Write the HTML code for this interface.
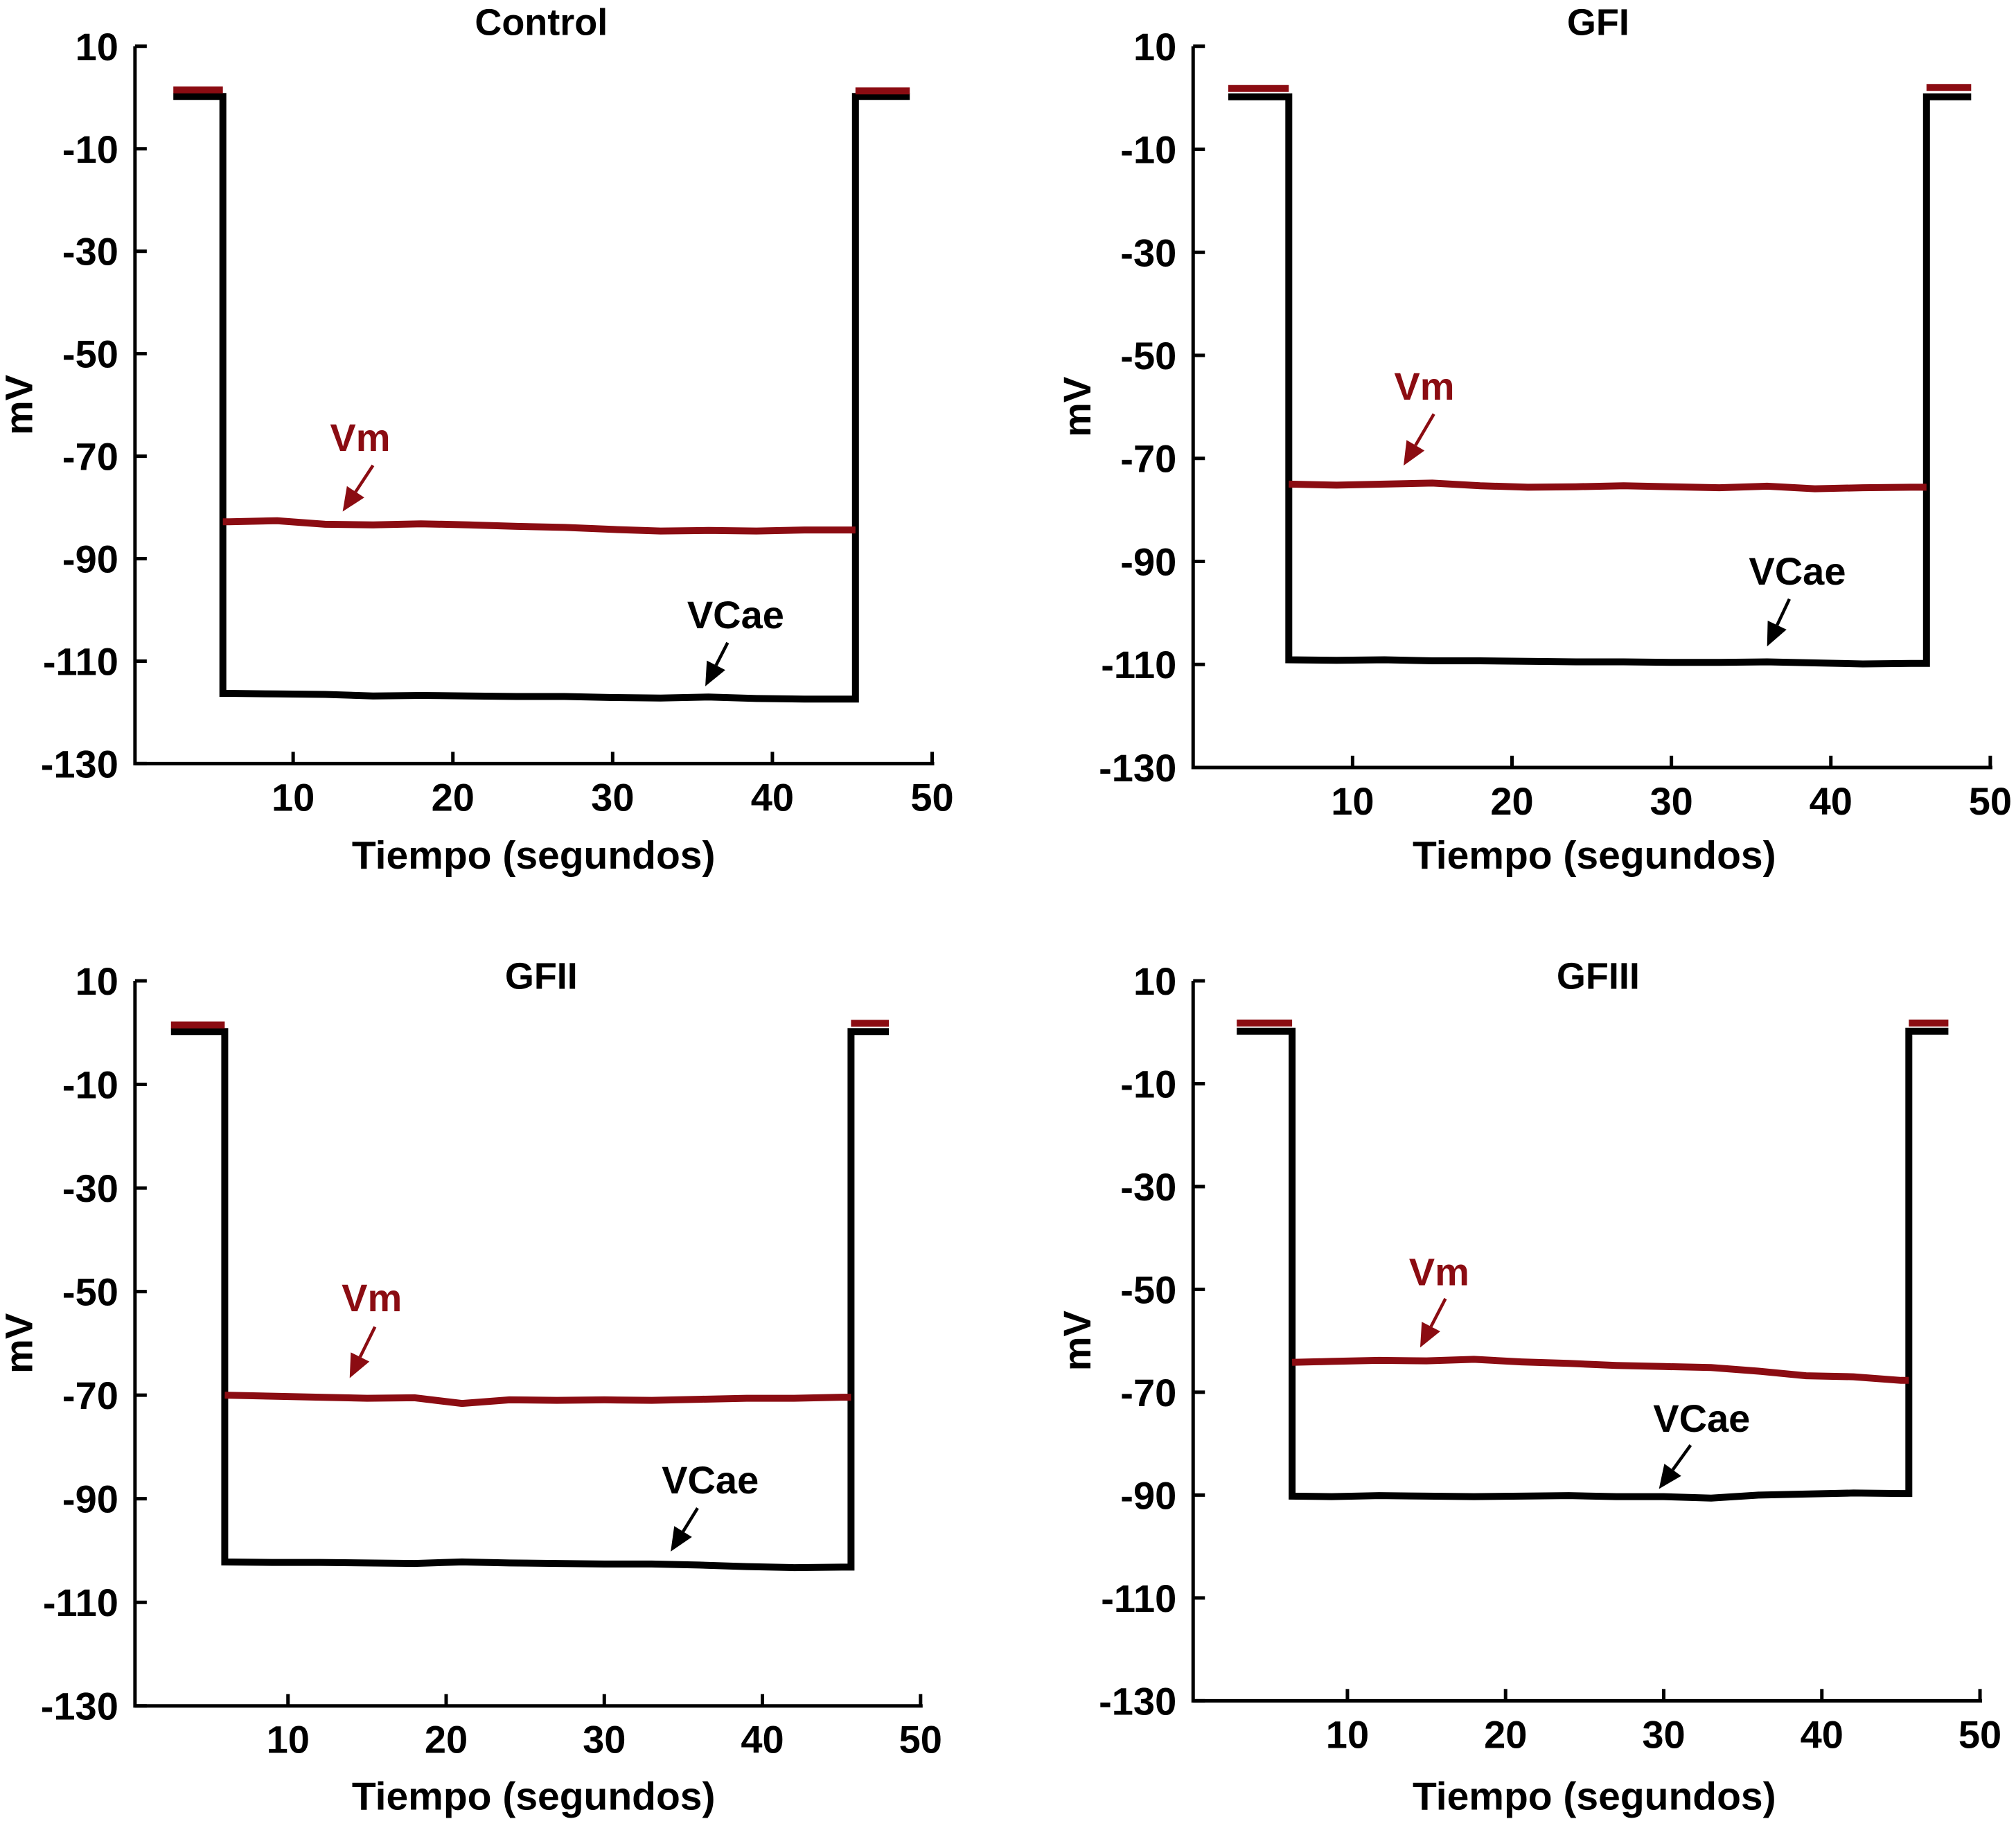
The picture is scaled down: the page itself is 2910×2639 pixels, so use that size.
<!DOCTYPE html>
<html><head><meta charset="utf-8"><style>
html,body{margin:0;padding:0;background:#fff;}
svg{display:block;}
text{font-family:"Liberation Sans",sans-serif;font-weight:bold;}
</style></head><body>
<svg id="fig" width="2910" height="2639" viewBox="0 0 2910 2639"></svg>
<script>
// ---- data ----
const panelTitles = ["Control","GFI","GFII","GFIII"];
const yTicks = [10,-10,-30,-50,-70,-90,-110,-130];
const xTicks = [10,20,30,40,50];
// step times: [start, stepDown, stepUp, end]
const stepTimes = [[2.5,5.6,45.2,48.6],[2.2,6.0,46.0,48.8],[2.6,6.0,45.6,48.0],[3.0,6.5,45.5,48.0]];
const plateauTimes = [6,9,12,15,18,21,24,27,30,33,36,39,42,45];
const vmBase = [[1.5,1.3],[1.8,2.0],[1.5,1.8],[1.8,1.8]];
const vcBase = [[0.2,0.2],[0.2,0.2],[0.2,0.2],[0.2,0.2]];
const vmPlateau = [
 [-82.8,-82.6,-83.3,-83.4,-83.2,-83.4,-83.7,-83.9,-84.3,-84.6,-84.5,-84.6,-84.4,-84.4],
 [-75.0,-75.2,-75.0,-74.8,-75.3,-75.6,-75.5,-75.3,-75.5,-75.7,-75.4,-75.9,-75.7,-75.6],
 [-70.0,-70.2,-70.4,-70.6,-70.5,-71.6,-70.9,-71.0,-70.9,-71.0,-70.8,-70.6,-70.6,-70.4],
 [-64.2,-64.0,-63.8,-63.9,-63.6,-64.1,-64.4,-64.8,-65.0,-65.2,-65.9,-66.8,-67.0,-67.7]
];
const vcPlateau = [
 [-116.3,-116.4,-116.5,-116.8,-116.7,-116.8,-116.9,-116.9,-117.1,-117.2,-117.0,-117.3,-117.4,-117.4],
 [-109.1,-109.2,-109.1,-109.3,-109.3,-109.4,-109.5,-109.5,-109.6,-109.6,-109.5,-109.7,-109.9,-109.8],
 [-102.2,-102.3,-102.3,-102.4,-102.5,-102.2,-102.4,-102.5,-102.6,-102.6,-102.8,-103.1,-103.3,-103.2],
 [-90.2,-90.3,-90.1,-90.2,-90.3,-90.2,-90.1,-90.3,-90.3,-90.6,-90.0,-89.8,-89.6,-89.7]
];
// annotations in data coords: [labelX,labelY,arrowStartX,arrowStartY,tipX,tipY]
const vmNote = [[14.2,-66.3,15.0,-71.8,13.1,-80.8],[14.5,-55.9,15.1,-61.4,13.2,-71.4],[15.3,-51.1,15.5,-56.8,13.9,-66.7],[15.8,-46.5,16.2,-51.8,14.6,-61.3]];
const vcNote = [[37.7,-100.9,37.2,-106.4,35.8,-114.9],[37.9,-91.8,37.4,-97.3,36.0,-106.5],[36.7,-86.3,35.9,-91.8,34.2,-100.2],[32.4,-75.0,31.7,-80.3,29.7,-88.8]];

// ---- geometry (full pixel coords) ----
const S = 2910/1568;
const geo = [
 {axL:105,x10:228,x50:725,y10:36,y130:594,tx:421,ty:17,xl:415,xly:665},
 {axL:928,x10:1052,x50:1548,y10:36,y130:597,tx:1243,ty:17,xl:1240,xly:665},
 {axL:105,x10:224,x50:716,y10:763,y130:1327,tx:421,ty:759,xl:415,xly:1397},
 {axL:928,x10:1048,x50:1540,y10:763,y130:1323,tx:1243,ty:759,xl:1240,xly:1397}
];
const NS="http://www.w3.org/2000/svg";
const svg=document.getElementById('fig');
function mk(tag,attrs,parent){const e=document.createElementNS(NS,tag);for(const k in attrs)e.setAttribute(k,attrs[k]);(parent||svg).appendChild(e);return e;}
const RED="#8b0c12";

geo.forEach((g,i)=>{
  const G={axL:g.axL*S,x10:g.x10*S,x50:g.x50*S,y10:g.y10*S,y130:g.y130*S};
  const xs=t=>G.x10+(t-10)*(G.x50-G.x10)/40;
  const ys=v=>G.y10+(10-v)*(G.y130-G.y10)/140;
  const grp=mk('g',{});
  
  
  const ax=mk('path',{d:`M${G.axL},${G.y10} V${G.y130} H${G.x50+3}`,fill:'none',stroke:'#000','stroke-width':5},grp);
  
  
  yTicks.forEach(v=>{
    mk('line',{x1:G.axL,x2:G.axL+17,y1:ys(v),y2:ys(v),stroke:'#000','stroke-width':5},grp);
    const t=mk('text',{x:G.axL-24,y:ys(v)+20,'text-anchor':'end','font-size':56},grp);
    t.textContent=v;
    
    
  });
  xTicks.forEach(v=>{
    mk('line',{x1:xs(v),x2:xs(v),y1:G.y130,y2:G.y130-17,stroke:'#000','stroke-width':5},grp);
    const t=mk('text',{x:xs(v),y:G.y130+68,'text-anchor':'middle','font-size':56},grp);
    t.textContent=v;
    
    
  });
  const title=mk('text',{x:g.tx*S,y:g.ty*S+19,'text-anchor':'middle','font-size':54},grp);
  title.textContent=panelTitles[i];
  
  
  const xl=mk('text',{x:g.xl*S,y:g.xly*S+20,'text-anchor':'middle','font-size':57},grp);
  xl.textContent='Tiempo (segundos)';
  
  
  const yx=(g.axL-80)*S, yy=(G.y10+G.y130)/2;
  const yl=mk('text',{x:yx,y:yy,'text-anchor':'middle','font-size':56,transform:`rotate(-90 ${yx} ${yy})`},grp);
  yl.textContent='mV';
  
  
  function pathFrom(pts){return 'M'+pts.map(p=>xs(p[0]).toFixed(1)+','+ys(p[1]).toFixed(1)).join(' L');}
  function trace(base,plat,color,name,withSteps){
    const st=stepTimes[i];
    const mid=[[st[1],plat[0]]];
    plateauTimes.forEach((t,k)=>{ if(t>st[1]&&t<st[2]) mid.push([t,plat[k]]); });
    mid.push([st[2],plat[plat.length-1]]);
    let segs;
    if(withSteps){
      segs=[[[st[0],base[0]],[st[1],base[0]]].concat(mid).concat([[st[2],base[1]],[st[3],base[1]]])];
    } else {
      segs=[[[st[0],base[0]],[st[1],base[0]]],mid,[[st[2],base[1]],[st[3],base[1]]]];
    }
    segs.forEach(s=>{
      const p=mk('path',{d:pathFrom(s),fill:'none',stroke:color,'stroke-width':10,'stroke-linejoin':'miter'},grp);
      
      
    });
  }
  trace(vcBase[i],vcPlateau[i],'#000','vcae-trace',true);
  trace(vmBase[i],vmPlateau[i],RED,'vm-trace',false);
  function note(a,label,color,name){
    const t=mk('text',{x:xs(a[0]),y:ys(a[1])+20,'text-anchor':'middle','font-size':56,fill:color},grp);
    t.textContent=label;
    
    
    const x1=xs(a[2]),y1=ys(a[3]),x2=xs(a[4]),y2=ys(a[5]);
    const ang=Math.atan2(y2-y1,x2-x1),L=34,W=15;
    const bx=x2-L*Math.cos(ang),by=y2-L*Math.sin(ang);
    mk('line',{x1:x1,y1:y1,x2:bx,y2:by,stroke:color,'stroke-width':4.5},grp);
    const ah=mk('polygon',{points:`${x2},${y2} ${bx+W*Math.sin(ang)},${by-W*Math.cos(ang)} ${bx-W*Math.sin(ang)},${by+W*Math.cos(ang)}`,fill:color},grp);
    
    
  }
  note(vmNote[i],'Vm',RED,'vm');
  note(vcNote[i],'VCae','#000','vcae');
});
</script>
</body></html>
